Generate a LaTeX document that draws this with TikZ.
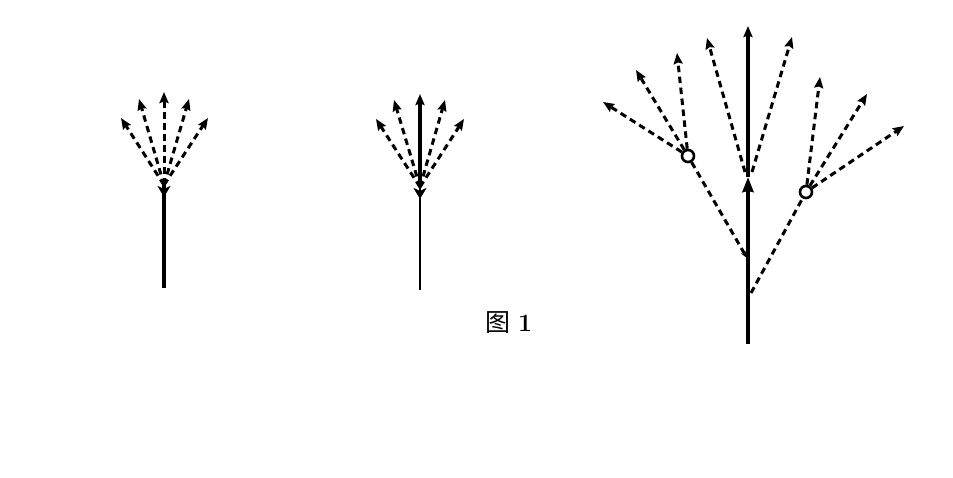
\documentclass[tikz,border=0pt]{standalone}
\usepackage{fontspec}
\newfontfamily\cjk{Noto Sans CJK SC}
\usetikzlibrary{arrows.meta}
\tikzset{
  stem/.style={line width=3.6pt},
  thinstem/.style={line width=2.4pt},
  dsh/.style={line width=3pt, dash pattern=on 6.5pt off 4.5pt},
  tip/.style={-{Stealth[length=11pt,width=9pt,inset=1.5pt]}},
  smalltip/.style={-{Stealth[length=7pt,width=6pt]}},
  downtip/.style={-{Stealth[length=11pt,width=13pt,inset=3pt]}, line width=2.5pt},
  midtip/.style={-{Stealth[length=15pt,width=11pt,inset=1pt]}},
  ring/.style={circle, draw, line width=2.6pt, minimum size=12pt, inner sep=0pt, fill=white},
}
\begin{document}
\begin{tikzpicture}[x=1pt,y=-1pt]
\useasboundingbox (0,0) rectangle (953,478);
% ---------- figure a ----------
\coordinate (a0) at (164,288);
\coordinate (aj) at (164,185);
\coordinate (ad) at (164,197);
\coordinate (a1) at (121,118);
\coordinate (a2) at (139,99);
\coordinate (a3) at (164,92);
\coordinate (a4) at (189,99);
\coordinate (a5) at (208,118);
\draw[stem] (a0) -- (aj);
\draw[downtip] (aj) -- (ad);
\foreach \t in {a1,a2,a3,a4,a5} \draw[dsh,tip] (aj) -- (\t);
% ---------- figure b ----------
\coordinate (b0) at (420,290);
\coordinate (bj) at (420,187);
\coordinate (bd) at (420,199);
\coordinate (bt) at (420,94);
\coordinate (b1) at (376,119);
\coordinate (b2) at (394,100);
\coordinate (b4) at (445,100);
\coordinate (b5) at (464,119);
\draw[thinstem] (b0) -- (bj);
\draw[stem,tip] (bj) -- (bt);
\draw[downtip] (bj) -- (bd);
\foreach \t in {b1,b2,b4,b5} \draw[dsh,tip] (bj) -- (\t);
% ---------- figure c ----------
\coordinate (c0) at (748,344);
\coordinate (cm) at (748,177);
\coordinate (cb) at (748,200);
\coordinate (ct) at (748,26);
\coordinate (cl) at (747,258);
\coordinate (cr) at (751,293);
\coordinate (cml) at (745,172);
\coordinate (cmr) at (752,172);
\coordinate (t1) at (707,38);
\coordinate (t2) at (792,37);
\coordinate (l1) at (603,102);
\coordinate (l2) at (636,70);
\coordinate (l3) at (677,53);
\coordinate (r1) at (820,77);
\coordinate (r2) at (867,94);
\coordinate (r3) at (904,126);
\node[ring] (lc) at (688,156) {};
\node[ring] (rc) at (806,192) {};
\draw[stem] (c0) -- (cb);
\draw[stem,tip] (cm) -- (ct);
\draw[stem,midtip] (cb) -- (cm);
\draw[dsh,tip] (cml) -- (t1);
\draw[dsh,tip] (cmr) -- (t2);
\draw[dsh,smalltip] (lc) -- (cl);
\draw[dsh] (cr) -- (rc);
\foreach \t in {l1,l2,l3} \draw[dsh,tip] (lc) -- (\t);
\foreach \t in {r1,r2,r3} \draw[dsh,tip] (rc) -- (\t);
% ---------- caption ----------
\node[font=\fontsize{25pt}{28pt}\selectfont, inner sep=0pt] (cap) at (509,323) {{\cjk 图}\ \textbf{1}};
\end{tikzpicture}
\end{document}
